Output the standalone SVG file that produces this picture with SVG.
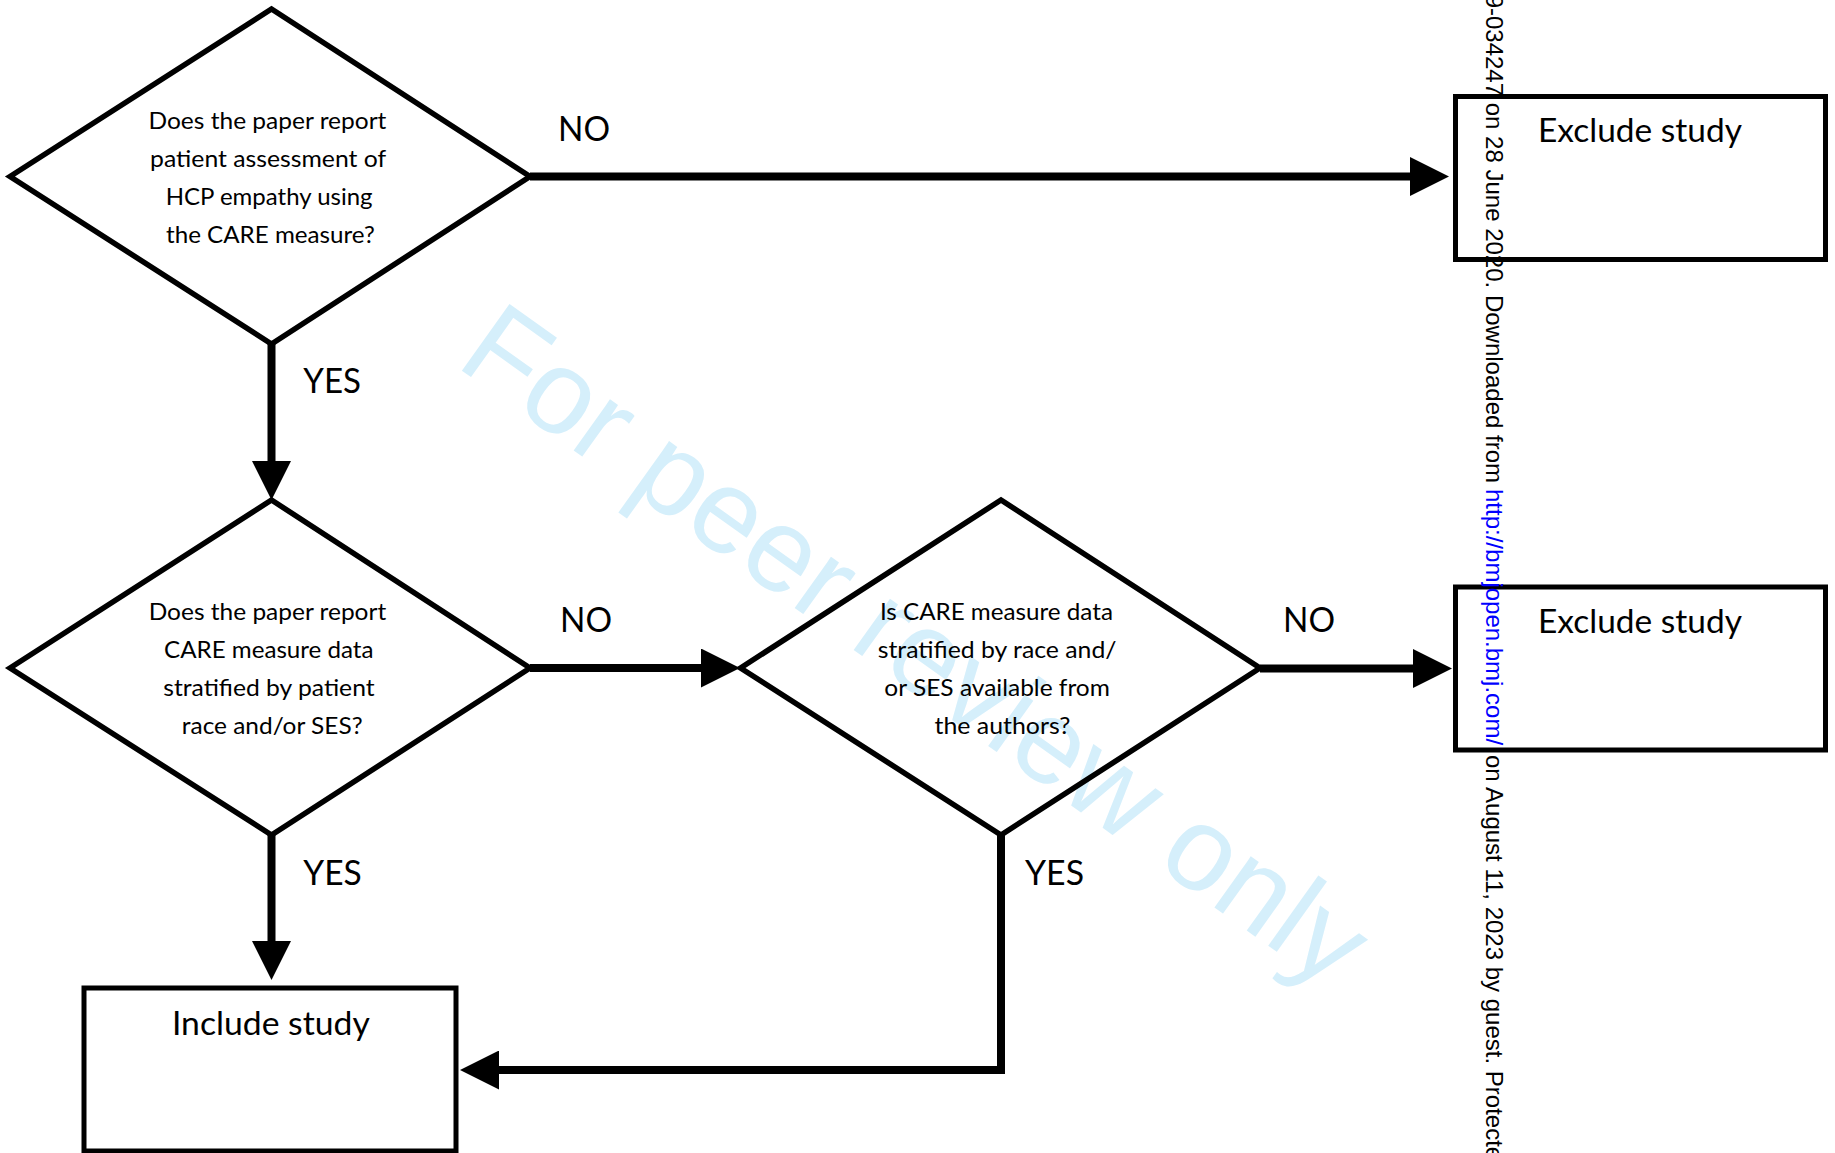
<svg xmlns="http://www.w3.org/2000/svg" width="1835" height="1153" viewBox="0 0 1835 1153">
<defs>
<style>
.dia{fill:none;stroke:#000;stroke-width:5.5;stroke-linejoin:miter}
.box{fill:none;stroke:#000;stroke-width:5}
.conn{fill:none;stroke:#000;stroke-width:8;stroke-linejoin:miter;marker-end:url(#ah)}
.q{font-family:Lato,"Open Sans","Liberation Sans",sans-serif;font-size:24px;fill:#000}
.lbl{font-family:Lato,"Open Sans","Liberation Sans",sans-serif;font-size:35.5px;fill:#000}
.bt{font-family:Lato,"Open Sans","Liberation Sans",sans-serif;font-size:32px;fill:#000}
.wm{font-family:"Liberation Sans",Arial,sans-serif;font-size:119px;fill:#d5effb}
.side{font-family:"Liberation Sans",Arial,sans-serif;font-size:24px;fill:#000}
</style>
<marker id="ah" viewBox="0 0 39 39" markerWidth="39" markerHeight="39" markerUnits="userSpaceOnUse" refX="1" refY="19.5" orient="auto">
<path d="M0,0 L39,19.5 L0,39 Z" fill="#000"/>
</marker>
</defs>
<rect width="1835" height="1153" fill="#fff"/>
<text class="wm" transform="translate(454,365) rotate(35.5)">For peer review only</text>

<g id="connectors">
<path class="conn" d="M530,176.5 H1411"/>
<path class="conn" d="M271.5,344 V462"/>
<path class="conn" d="M530,668 H702"/>
<path class="conn" d="M1260,668.5 H1414"/>
<path class="conn" d="M271.5,835 V942"/>
<path class="conn" d="M1001,835 V1070 H498"/>
<text class="lbl" x="558" y="140.7" textLength="52" lengthAdjust="spacingAndGlyphs">NO</text>
<text class="lbl" x="303.3" y="393.3" textLength="57.7" lengthAdjust="spacingAndGlyphs">YES</text>
<text class="lbl" x="560" y="631.7" textLength="52" lengthAdjust="spacingAndGlyphs">NO</text>
<text class="lbl" x="1283" y="631.7" textLength="52" lengthAdjust="spacingAndGlyphs">NO</text>
<text class="lbl" x="303.3" y="885" textLength="58.5" lengthAdjust="spacingAndGlyphs">YES</text>
<text class="lbl" x="1025" y="885" textLength="59" lengthAdjust="spacingAndGlyphs">YES</text>
</g>

<g id="q1">
<polygon class="dia" points="10,176.5 271.5,9 530,176.5 271.5,344"/>
<text class="q" text-anchor="middle">
<tspan x="270.5" y="128.5" textLength="238" lengthAdjust="spacingAndGlyphs">Does the paper report</tspan>
<tspan x="271" y="166.8" textLength="235.7" lengthAdjust="spacingAndGlyphs">patient assessment of</tspan>
<tspan x="272.2" y="205.1" textLength="206.8" lengthAdjust="spacingAndGlyphs">HCP empathy using</tspan>
<tspan x="270.4" y="243.4" textLength="208.8" lengthAdjust="spacingAndGlyphs">the CARE measure?</tspan>
</text>
</g>

<g id="exclude1">
<rect class="box" x="1455.5" y="96.5" width="370" height="163"/>
<text class="bt" x="1640" y="141.7" text-anchor="middle" textLength="204" lengthAdjust="spacingAndGlyphs">Exclude study</text>
</g>

<g id="q2">
<polygon class="dia" points="10,668 271.5,500 530,668 271.5,835"/>
<text class="q" text-anchor="middle">
<tspan x="270.5" y="619.5" textLength="237.5" lengthAdjust="spacingAndGlyphs">Does the paper report</tspan>
<tspan x="271.9" y="657.8" textLength="209.4" lengthAdjust="spacingAndGlyphs">CARE measure data</tspan>
<tspan x="272" y="696.1" textLength="211.3" lengthAdjust="spacingAndGlyphs">stratified by patient</tspan>
<tspan x="272.2" y="734.4" textLength="180.8" lengthAdjust="spacingAndGlyphs">race and/or SES?</tspan>
</text>
</g>

<g id="q3">
<polygon class="dia" points="740.5,668 1001,500 1260,668 1001,835"/>
<text class="q" text-anchor="middle">
<tspan x="999.5" y="619.5" textLength="233" lengthAdjust="spacingAndGlyphs">Is CARE measure data</tspan>
<tspan x="1000.2" y="657.8" textLength="238.8" lengthAdjust="spacingAndGlyphs">stratified by race and/</tspan>
<tspan x="1000.2" y="696.1" textLength="225.5" lengthAdjust="spacingAndGlyphs">or SES available from</tspan>
<tspan x="1002.5" y="734.4" textLength="136" lengthAdjust="spacingAndGlyphs">the authors?</tspan>
</text>
</g>

<g id="exclude2">
<rect class="box" x="1455.5" y="587" width="370" height="163"/>
<text class="bt" x="1640" y="632.6" text-anchor="middle" textLength="204" lengthAdjust="spacingAndGlyphs">Exclude study</text>
</g>

<g id="include">
<rect class="box" x="84" y="988" width="372" height="163"/>
<text class="bt" x="270.9" y="1035" text-anchor="middle" textLength="198" lengthAdjust="spacingAndGlyphs">Include study</text>
</g>

<g id="sidebar">
<text class="side" transform="translate(1486,483) rotate(90)" text-anchor="end">BMJ Open: first published as 10.1136/bmjopen-2019-034247 on 28 June 2020. Downloaded from</text>
<text class="side" transform="translate(1486,489) rotate(90)" style="fill:#0000ff">http://bmjopen.bmj.com/</text>
<text class="side" transform="translate(1486,755) rotate(90)">on August 11, 2023 by guest. Protected by copyright.</text>
</g>
</svg>
